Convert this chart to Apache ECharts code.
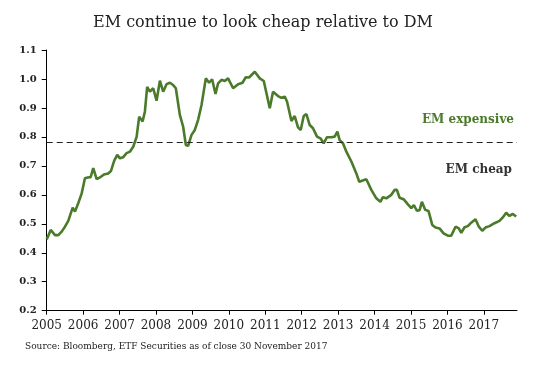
<!DOCTYPE html>
<html>
<head>
<meta charset="utf-8">
<script src="https://cdn.jsdelivr.net/npm/echarts@6/dist/echarts.min.js"></script>
<style>html,body{margin:0;padding:0;background:#fff}#c{width:538px;height:365px}</style>
</head>
<body>
<div id="c"></div>
<script>
// Time positions as decimal years
var years = [2005.000,2005.110,2005.228,2005.318,2005.411,2005.502,2005.592,2005.639,2005.713,2005.776,2005.866,2005.960,
2006.050,2006.124,2006.206,2006.278,2006.371,2006.461,2006.571,2006.689,2006.763,2006.854,2006.936,
2007.010,2007.100,2007.194,2007.284,2007.375,2007.468,2007.539,2007.632,2007.695,2007.758,2007.832,2007.923,
2008.016,2008.107,2008.197,2008.290,2008.381,2008.471,2008.545,2008.655,2008.746,2008.820,2008.883,2008.976,
2009.066,2009.157,2009.250,2009.368,2009.458,2009.541,2009.634,2009.705,2009.798,2009.889,2009.979,
2010.117,2010.254,2010.374,2010.465,2010.555,2010.712,2010.849,2010.959,
2011.123,2011.213,2011.350,2011.444,2011.534,2011.597,2011.718,2011.808,2011.899,2011.973,
2012.055,2012.129,2012.220,2012.310,2012.420,2012.513,2012.604,2012.694,2012.815,2012.905,2012.979,
2013.042,2013.133,2013.226,2013.363,2013.500,2013.580,2013.774,2013.911,
2014.048,2014.158,2014.229,2014.323,2014.460,2014.550,2014.613,2014.687,2014.797,2014.915,
2015.008,2015.079,2015.161,2015.236,2015.299,2015.392,2015.482,2015.584,2015.674,2015.784,2015.894,
2016.012,2016.105,2016.223,2016.313,2016.380,2016.470,2016.560,2016.653,2016.771,2016.862,2016.955,
2017.045,2017.155,2017.292,2017.429,2017.520,2017.613,2017.703,2017.794,2017.887];
var ratio = [0.446,0.479,0.461,0.461,0.473,0.490,0.510,0.513,0.556,0.542,0.571,0.605,
0.657,0.660,0.661,0.692,0.654,0.660,0.670,0.674,0.682,0.718,0.738,
0.726,0.730,0.744,0.749,0.766,0.800,0.870,0.853,0.887,0.973,0.956,0.968,
0.925,0.994,0.956,0.982,0.987,0.979,0.968,0.876,0.835,0.772,0.769,0.807,
0.824,0.859,0.910,1.002,0.987,0.999,0.948,0.985,0.997,0.993,1.002,
0.968,0.982,0.987,1.006,1.005,1.025,1.002,0.993,
0.899,0.956,0.941,0.935,0.939,0.922,0.855,0.872,0.833,0.824,
0.872,0.879,0.841,0.830,0.801,0.795,0.778,0.799,0.799,0.801,0.818,
0.789,0.778,0.749,0.715,0.674,0.645,0.654,0.617,
0.588,0.576,0.592,0.588,0.600,0.617,0.617,0.590,0.585,0.567,
0.554,0.565,0.545,0.547,0.576,0.548,0.544,0.496,0.487,0.484,0.467,
0.459,0.459,0.490,0.484,0.469,0.488,0.492,0.504,0.516,0.490,0.476,
0.487,0.492,0.502,0.510,0.522,0.538,0.527,0.534,0.525];
var yearTicks = [2005,2006,2007,2008,2009,2010,2011,2012,2013,2014,2015,2016,2017];
var threshold = 0.775;
var titleText = 'EM continue to look cheap relative to DM';
var sourceText = 'Source: Bloomberg, ETF Securities as of close 30 November 2017';

var green = '#4b7a2b';
var serif = '"DejaVu Serif", serif';
var pts = years.map(function (y, i) { return [y, ratio[i]]; });

var chart = echarts.init(document.getElementById('c'));
chart.setOption({
  animation: false,
  backgroundColor: '#fff',
  title: {
    text: titleText, left: 88, top: 10,
    textStyle: { fontFamily: serif, fontSize: 16, fontWeight: 'normal', color: '#222' }
  },
  grid: { left: 46.7, right: 21, top: 50, bottom: 54.3 },
  xAxis: {
    type: 'value', min: 2005, max: 2017.91,
    axisLine: { lineStyle: { color: '#000', width: 1 } },
    axisTick: { show: true, length: 4, inside: false, customValues: yearTicks, lineStyle: { color: '#000' } },
    axisLabel: { customValues: yearTicks, margin: 9, fontFamily: serif, fontSize: 12, color: '#222',
      formatter: function (v) { return String(Math.round(v)); } },
    splitLine: { show: false }
  },
  yAxis: {
    type: 'value', min: 0.2, max: 1.1, interval: 0.1,
    axisLine: { show: true, lineStyle: { color: '#000', width: 1 } },
    axisTick: { show: true, length: 5, lineStyle: { color: '#000' } },
    axisLabel: { margin: 10, fontFamily: serif, fontSize: 10, fontWeight: 'bold', color: '#222',
      formatter: function (v) { return v.toFixed(1); } },
    splitLine: { show: false }
  },
  series: [{
    type: 'line', data: pts, showSymbol: false, smooth: false,
    lineStyle: { color: green, width: 2.6 },
    markLine: {
      silent: true, symbol: 'none', label: { show: false },
      lineStyle: { color: '#222', type: [6, 4], width: 1.2 },
      data: [{ yAxis: threshold }]
    }
  }],
  graphic: [
    { type: 'text', right: 24, top: 114, style: { text: 'EM expensive', font: 'bold 12px ' + serif, fill: green } },
    { type: 'text', right: 26, top: 164, style: { text: 'EM cheap', font: 'bold 12px ' + serif, fill: '#333' } },
    { type: 'text', left: 25, top: 342, style: { text: sourceText, font: '9px ' + serif, fill: '#222' } }
  ]
});
</script>
</body>
</html>
